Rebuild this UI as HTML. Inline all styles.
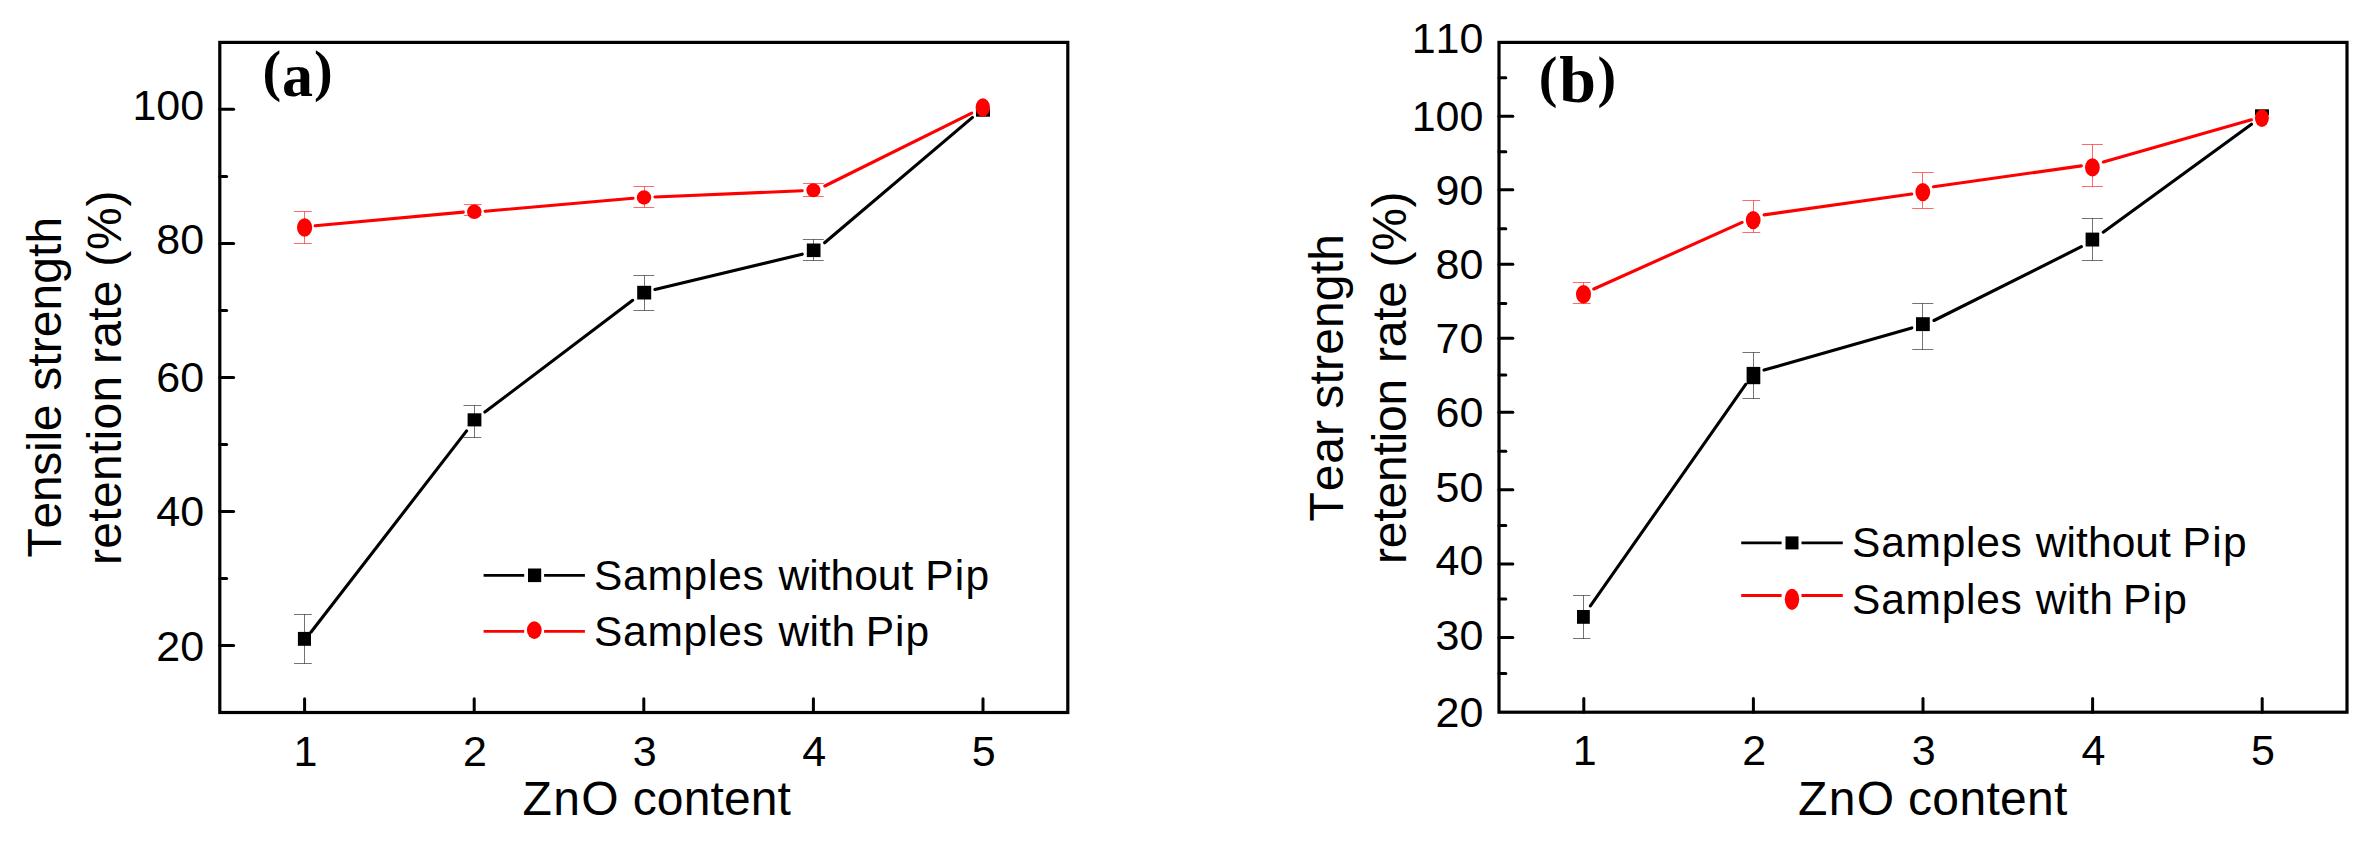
<!DOCTYPE html>
<html><head><meta charset="utf-8"><title>ZnO content charts</title>
<style>html,body{margin:0;padding:0;background:#fff}body{width:2374px;height:842px;overflow:hidden}svg{display:block}text{fill:#000;white-space:pre;font-kerning:none}</style>
</head><body>
<svg width="2374" height="842" viewBox="0 0 2374 842">
<rect width="2374" height="842" fill="#fff"/>
<rect x="219.8" y="42.4" width="848.0" height="670.1" fill="none" stroke="#000" stroke-width="3.2" stroke-linejoin="miter"/>
<line x1="304.6" y1="712.5" x2="304.6" y2="698.7" stroke="#000" stroke-width="3.0" stroke-linecap="round"/>
<text x="305.4" y="766.0" text-anchor="middle" style="font-family:'Liberation Sans',Arial,sans-serif;font-size:43px">1</text>
<line x1="474.2" y1="712.5" x2="474.2" y2="698.7" stroke="#000" stroke-width="3.0" stroke-linecap="round"/>
<text x="475.0" y="766.0" text-anchor="middle" style="font-family:'Liberation Sans',Arial,sans-serif;font-size:43px">2</text>
<line x1="643.8" y1="712.5" x2="643.8" y2="698.7" stroke="#000" stroke-width="3.0" stroke-linecap="round"/>
<text x="644.6" y="766.0" text-anchor="middle" style="font-family:'Liberation Sans',Arial,sans-serif;font-size:43px">3</text>
<line x1="813.4" y1="712.5" x2="813.4" y2="698.7" stroke="#000" stroke-width="3.0" stroke-linecap="round"/>
<text x="814.2" y="766.0" text-anchor="middle" style="font-family:'Liberation Sans',Arial,sans-serif;font-size:43px">4</text>
<line x1="983.0" y1="712.5" x2="983.0" y2="698.7" stroke="#000" stroke-width="3.0" stroke-linecap="round"/>
<text x="983.8" y="766.0" text-anchor="middle" style="font-family:'Liberation Sans',Arial,sans-serif;font-size:43px">5</text>
<line x1="219.8" y1="109.3" x2="233.6" y2="109.3" stroke="#000" stroke-width="3.0" stroke-linecap="round"/>
<line x1="219.8" y1="243.5" x2="233.6" y2="243.5" stroke="#000" stroke-width="3.0" stroke-linecap="round"/>
<line x1="219.8" y1="377.5" x2="233.6" y2="377.5" stroke="#000" stroke-width="3.0" stroke-linecap="round"/>
<line x1="219.8" y1="511.5" x2="233.6" y2="511.5" stroke="#000" stroke-width="3.0" stroke-linecap="round"/>
<line x1="219.8" y1="645.5" x2="233.6" y2="645.5" stroke="#000" stroke-width="3.0" stroke-linecap="round"/>
<line x1="219.8" y1="176.4" x2="226.6" y2="176.4" stroke="#000" stroke-width="3.0" stroke-linecap="round"/>
<line x1="219.8" y1="310.5" x2="226.6" y2="310.5" stroke="#000" stroke-width="3.0" stroke-linecap="round"/>
<line x1="219.8" y1="444.5" x2="226.6" y2="444.5" stroke="#000" stroke-width="3.0" stroke-linecap="round"/>
<line x1="219.8" y1="578.6" x2="226.6" y2="578.6" stroke="#000" stroke-width="3.0" stroke-linecap="round"/>
<text x="204.2" y="119.8" text-anchor="end" style="font-family:'Liberation Sans',Arial,sans-serif;font-size:43px">100</text>
<text x="204.2" y="254.2" text-anchor="end" style="font-family:'Liberation Sans',Arial,sans-serif;font-size:43px">80</text>
<text x="204.2" y="391.5" text-anchor="end" style="font-family:'Liberation Sans',Arial,sans-serif;font-size:43px">60</text>
<text x="204.2" y="526.3" text-anchor="end" style="font-family:'Liberation Sans',Arial,sans-serif;font-size:43px">40</text>
<text x="204.2" y="661.1" text-anchor="end" style="font-family:'Liberation Sans',Arial,sans-serif;font-size:43px">20</text>
<line x1="311.1" y1="632.0" x2="466.6" y2="430.9" stroke="#000" stroke-width="3.1" stroke-linecap="round"/>
<line x1="484.9" y1="412.1" x2="632.7" y2="300.3" stroke="#000" stroke-width="3.1" stroke-linecap="round"/>
<line x1="654.9" y1="289.4" x2="802.2" y2="254.2" stroke="#000" stroke-width="3.1" stroke-linecap="round"/>
<line x1="824.6" y1="242.8" x2="972.5" y2="117.4" stroke="#000" stroke-width="3.1" stroke-linecap="round"/>
<path d="M304.5 614.5V663.5M294.0 614.5H311.8M294.0 663.5H311.8" fill="none" stroke="#000" stroke-width="1" stroke-opacity="0.55"/>
<path d="M474.5 405.5V437.5M463.5 405.5H481.4M463.5 437.5H481.4" fill="none" stroke="#000" stroke-width="1" stroke-opacity="0.55"/>
<path d="M644.5 275.5V310.5M633.4 275.5H654.3M633.4 310.5H654.3" fill="none" stroke="#000" stroke-width="1" stroke-opacity="0.55"/>
<path d="M813.5 239.5V260.5M802.9 239.5H823.8M802.9 260.5H823.8" fill="none" stroke="#000" stroke-width="1" stroke-opacity="0.55"/>
<rect x="297.9" y="631.9" width="13.1" height="13.9" fill="#000"/>
<rect x="467.6" y="413.3" width="13.8" height="13.1" fill="#000"/>
<rect x="637.2" y="285.8" width="14.0" height="13.7" fill="#000"/>
<rect x="806.8" y="243.5" width="13.7" height="13.6" fill="#000"/>
<rect x="976.0" y="109.1" width="14.0" height="7.6" fill="#000"/>
<line x1="315.1" y1="225.8" x2="463.3" y2="212.1" stroke="#f00" stroke-width="3.1" stroke-linecap="round"/>
<line x1="485.1" y1="211.2" x2="633.0" y2="198.3" stroke="#f00" stroke-width="3.1" stroke-linecap="round"/>
<line x1="654.9" y1="197.0" x2="802.2" y2="190.8" stroke="#f00" stroke-width="3.1" stroke-linecap="round"/>
<line x1="824.8" y1="186.0" x2="971.7" y2="113.2" stroke="#f00" stroke-width="3.1" stroke-linecap="round"/>
<path d="M304.5 211.5V243.5M294.0 211.5H311.8M294.0 243.5H311.8" fill="none" stroke="#f00" stroke-width="1" stroke-opacity="0.58"/>
<path d="M474.5 204.5V215.5M463.8 204.5H481.6M463.8 215.5H481.6" fill="none" stroke="#f00" stroke-width="1" stroke-opacity="0.58"/>
<path d="M644.5 186.5V207.5M633.4 186.5H654.3M633.4 207.5H654.3" fill="none" stroke="#f00" stroke-width="1" stroke-opacity="0.58"/>
<path d="M813.5 183.5V196.5M802.9 183.5H823.8M802.9 196.5H823.8" fill="none" stroke="#f00" stroke-width="1" stroke-opacity="0.58"/>
<ellipse cx="304.6" cy="227.5" rx="7.6" ry="9.3" fill="#f00"/>
<ellipse cx="474.3" cy="211.8" rx="7.3" ry="7.2" fill="#f00"/>
<ellipse cx="644.0" cy="197.5" rx="7.2" ry="7.2" fill="#f00"/>
<ellipse cx="813.4" cy="190.3" rx="7.0" ry="7.0" fill="#f00"/>
<ellipse cx="982.8" cy="107.5" rx="7.2" ry="9.2" fill="#f00"/>
<line x1="483.6" y1="575.3" x2="524.2" y2="575.3" stroke="#000" stroke-width="2.8"/>
<line x1="544.1" y1="575.3" x2="584.9" y2="575.3" stroke="#000" stroke-width="2.8"/>
<rect x="528.0" y="568.5" width="13.2" height="13.6" fill="#000"/>
<line x1="483.6" y1="631.4" x2="524.2" y2="631.4" stroke="#f00" stroke-width="2.8"/>
<line x1="544.1" y1="631.4" x2="584.9" y2="631.4" stroke="#f00" stroke-width="2.8"/>
<ellipse cx="534.3" cy="630.1" rx="7.4" ry="8.8" fill="#f00"/>
<text y="590.0" style="font-family:'Liberation Sans',Arial,sans-serif;font-size:42.5px"><tspan x="593.97" style="letter-spacing:0.74px">Samples</tspan> <tspan x="778.56" style="letter-spacing:0.01px">without</tspan> <tspan x="925.21" style="letter-spacing:1.27px">Pip</tspan></text>
<text y="646.3" style="font-family:'Liberation Sans',Arial,sans-serif;font-size:42.5px"><tspan x="593.97" style="letter-spacing:0.74px">Samples</tspan> <tspan x="778.56" style="letter-spacing:0.31px">with</tspan> <tspan x="865.81" style="letter-spacing:0.97px">Pip</tspan></text>
<text style="font-family:'Liberation Serif',serif;font-weight:bold"><tspan x="262.4" y="90.4" style="font-size:56px">(</tspan><tspan x="282.1" y="96.4" style="font-size:62px">a</tspan><tspan x="314.0" y="90.4" style="font-size:56px">)</tspan></text>
<text y="815.1" style="font-family:'Liberation Sans',Arial,sans-serif;font-size:48px"><tspan x="522.58" style="letter-spacing:1.28px">ZnO</tspan> <tspan x="632.66" style="letter-spacing:0.14px">content</tspan></text>
<text transform="translate(60.6,0) rotate(-90)" y="0" style="font-family:'Liberation Sans',Arial,sans-serif;font-size:48px"><tspan x="-557.48" style="letter-spacing:-0.29px">Tensile</tspan> <tspan x="-390.84" style="letter-spacing:0.09px">strength</tspan></text>
<text transform="translate(120.8,0) rotate(-90)" y="0" style="font-family:'Liberation Sans',Arial,sans-serif;font-size:48px"><tspan x="-564.99" style="letter-spacing:0.30px">retention</tspan> <tspan x="-363.99" style="letter-spacing:0.24px">rate</tspan> <tspan x="-266.68" style="letter-spacing:0.75px">(%)</tspan></text>
<rect x="1499.0" y="42.4" width="848.0" height="669.8" fill="none" stroke="#000" stroke-width="3.2" stroke-linejoin="miter"/>
<line x1="1583.8" y1="712.2" x2="1583.8" y2="698.4" stroke="#000" stroke-width="3.0" stroke-linecap="round"/>
<text x="1584.6" y="765.4" text-anchor="middle" style="font-family:'Liberation Sans',Arial,sans-serif;font-size:43px">1</text>
<line x1="1753.4" y1="712.2" x2="1753.4" y2="698.4" stroke="#000" stroke-width="3.0" stroke-linecap="round"/>
<text x="1754.2" y="765.4" text-anchor="middle" style="font-family:'Liberation Sans',Arial,sans-serif;font-size:43px">2</text>
<line x1="1923.0" y1="712.2" x2="1923.0" y2="698.4" stroke="#000" stroke-width="3.0" stroke-linecap="round"/>
<text x="1923.8" y="765.4" text-anchor="middle" style="font-family:'Liberation Sans',Arial,sans-serif;font-size:43px">3</text>
<line x1="2092.6" y1="712.2" x2="2092.6" y2="698.4" stroke="#000" stroke-width="3.0" stroke-linecap="round"/>
<text x="2093.4" y="765.4" text-anchor="middle" style="font-family:'Liberation Sans',Arial,sans-serif;font-size:43px">4</text>
<line x1="2262.2" y1="712.2" x2="2262.2" y2="698.4" stroke="#000" stroke-width="3.0" stroke-linecap="round"/>
<text x="2263.0" y="765.4" text-anchor="middle" style="font-family:'Liberation Sans',Arial,sans-serif;font-size:43px">5</text>
<line x1="1499.0" y1="116.2" x2="1512.8" y2="116.2" stroke="#000" stroke-width="3.0" stroke-linecap="round"/>
<line x1="1499.0" y1="189.8" x2="1512.8" y2="189.8" stroke="#000" stroke-width="3.0" stroke-linecap="round"/>
<line x1="1499.0" y1="264.3" x2="1512.8" y2="264.3" stroke="#000" stroke-width="3.0" stroke-linecap="round"/>
<line x1="1499.0" y1="338.3" x2="1512.8" y2="338.3" stroke="#000" stroke-width="3.0" stroke-linecap="round"/>
<line x1="1499.0" y1="412.2" x2="1512.8" y2="412.2" stroke="#000" stroke-width="3.0" stroke-linecap="round"/>
<line x1="1499.0" y1="489.7" x2="1512.8" y2="489.7" stroke="#000" stroke-width="3.0" stroke-linecap="round"/>
<line x1="1499.0" y1="564.0" x2="1512.8" y2="564.0" stroke="#000" stroke-width="3.0" stroke-linecap="round"/>
<line x1="1499.0" y1="637.5" x2="1512.8" y2="637.5" stroke="#000" stroke-width="3.0" stroke-linecap="round"/>
<line x1="1499.0" y1="77.8" x2="1505.8" y2="77.8" stroke="#000" stroke-width="3.0" stroke-linecap="round"/>
<line x1="1499.0" y1="151.8" x2="1505.8" y2="151.8" stroke="#000" stroke-width="3.0" stroke-linecap="round"/>
<line x1="1499.0" y1="228.7" x2="1505.8" y2="228.7" stroke="#000" stroke-width="3.0" stroke-linecap="round"/>
<line x1="1499.0" y1="303.5" x2="1505.8" y2="303.5" stroke="#000" stroke-width="3.0" stroke-linecap="round"/>
<line x1="1499.0" y1="375.0" x2="1505.8" y2="375.0" stroke="#000" stroke-width="3.0" stroke-linecap="round"/>
<line x1="1499.0" y1="451.3" x2="1505.8" y2="451.3" stroke="#000" stroke-width="3.0" stroke-linecap="round"/>
<line x1="1499.0" y1="525.4" x2="1505.8" y2="525.4" stroke="#000" stroke-width="3.0" stroke-linecap="round"/>
<line x1="1499.0" y1="599.0" x2="1505.8" y2="599.0" stroke="#000" stroke-width="3.0" stroke-linecap="round"/>
<line x1="1499.0" y1="673.4" x2="1505.8" y2="673.4" stroke="#000" stroke-width="3.0" stroke-linecap="round"/>
<text x="1483.4" y="53.4" text-anchor="end" style="font-family:'Liberation Sans',Arial,sans-serif;font-size:43px">110</text>
<text x="1483.4" y="130.9" text-anchor="end" style="font-family:'Liberation Sans',Arial,sans-serif;font-size:43px">100</text>
<text x="1483.4" y="205.1" text-anchor="end" style="font-family:'Liberation Sans',Arial,sans-serif;font-size:43px">90</text>
<text x="1483.4" y="279.4" text-anchor="end" style="font-family:'Liberation Sans',Arial,sans-serif;font-size:43px">80</text>
<text x="1483.4" y="352.7" text-anchor="end" style="font-family:'Liberation Sans',Arial,sans-serif;font-size:43px">70</text>
<text x="1483.4" y="427.0" text-anchor="end" style="font-family:'Liberation Sans',Arial,sans-serif;font-size:43px">60</text>
<text x="1483.4" y="501.5" text-anchor="end" style="font-family:'Liberation Sans',Arial,sans-serif;font-size:43px">50</text>
<text x="1483.4" y="574.8" text-anchor="end" style="font-family:'Liberation Sans',Arial,sans-serif;font-size:43px">40</text>
<text x="1483.4" y="650.0" text-anchor="end" style="font-family:'Liberation Sans',Arial,sans-serif;font-size:43px">30</text>
<text x="1483.4" y="726.5" text-anchor="end" style="font-family:'Liberation Sans',Arial,sans-serif;font-size:43px">20</text>
<line x1="1590.4" y1="605.9" x2="1745.7" y2="384.3" stroke="#000" stroke-width="3.1" stroke-linecap="round"/>
<line x1="1764.0" y1="370.1" x2="1911.8" y2="327.9" stroke="#000" stroke-width="3.1" stroke-linecap="round"/>
<line x1="1934.0" y1="320.5" x2="2081.4" y2="246.7" stroke="#000" stroke-width="3.1" stroke-linecap="round"/>
<line x1="2103.2" y1="232.2" x2="2251.5" y2="124.2" stroke="#000" stroke-width="3.1" stroke-linecap="round"/>
<path d="M1583.5 595.5V638.5M1573.0 595.5H1590.4M1573.0 638.5H1590.4" fill="none" stroke="#000" stroke-width="1" stroke-opacity="0.55"/>
<path d="M1753.5 352.5V398.5M1742.5 352.5H1760.0M1742.5 398.5H1760.0" fill="none" stroke="#000" stroke-width="1" stroke-opacity="0.55"/>
<path d="M1922.5 303.5V349.5M1912.2 303.5H1933.3M1912.2 349.5H1933.3" fill="none" stroke="#000" stroke-width="1" stroke-opacity="0.55"/>
<path d="M2092.5 218.5V260.5M2081.8 218.5H2102.9M2081.8 260.5H2102.9" fill="none" stroke="#000" stroke-width="1" stroke-opacity="0.55"/>
<rect x="1577.0" y="610.0" width="12.8" height="13.8" fill="#000"/>
<rect x="1746.6" y="366.9" width="13.7" height="17.3" fill="#000"/>
<rect x="1916.0" y="317.2" width="13.8" height="13.9" fill="#000"/>
<rect x="2085.6" y="232.6" width="13.6" height="13.9" fill="#000"/>
<rect x="2255.0" y="109.3" width="14.0" height="5.8" fill="#000"/>
<line x1="1593.8" y1="289.0" x2="1742.1" y2="222.4" stroke="#f00" stroke-width="3.1" stroke-linecap="round"/>
<line x1="1764.1" y1="214.9" x2="1911.7" y2="194.0" stroke="#f00" stroke-width="3.1" stroke-linecap="round"/>
<line x1="1933.5" y1="186.7" x2="2081.3" y2="165.9" stroke="#f00" stroke-width="3.1" stroke-linecap="round"/>
<line x1="2103.3" y1="162.0" x2="2251.4" y2="119.8" stroke="#f00" stroke-width="3.1" stroke-linecap="round"/>
<path d="M1583.5 282.5V303.5M1572.8 282.5H1590.7M1572.8 303.5H1590.7" fill="none" stroke="#f00" stroke-width="1" stroke-opacity="0.58"/>
<path d="M1753.5 200.5V232.5M1742.4 200.5H1760.2M1742.4 232.5H1760.2" fill="none" stroke="#f00" stroke-width="1" stroke-opacity="0.58"/>
<path d="M1922.5 172.5V208.5M1912.2 172.5H1933.6M1912.2 208.5H1933.6" fill="none" stroke="#f00" stroke-width="1" stroke-opacity="0.58"/>
<path d="M2092.5 144.5V186.5M2081.8 144.5H2102.9M2081.8 186.5H2102.9" fill="none" stroke="#f00" stroke-width="1" stroke-opacity="0.58"/>
<ellipse cx="1583.5" cy="294.2" rx="7.5" ry="9.2" fill="#f00"/>
<ellipse cx="1753.2" cy="220.1" rx="7.4" ry="9.1" fill="#f00"/>
<ellipse cx="1922.8" cy="192.1" rx="7.4" ry="9.1" fill="#f00"/>
<ellipse cx="2092.4" cy="167.4" rx="7.4" ry="9.1" fill="#f00"/>
<ellipse cx="2261.9" cy="118.1" rx="7.0" ry="8.8" fill="#f00"/>
<line x1="1741.2" y1="542.9" x2="1781.6" y2="542.9" stroke="#000" stroke-width="2.8"/>
<line x1="1801.5" y1="542.9" x2="1842.8" y2="542.9" stroke="#000" stroke-width="2.8"/>
<rect x="1785.5" y="536.4" width="13.0" height="13.0" fill="#000"/>
<line x1="1741.2" y1="595.5" x2="1781.6" y2="595.5" stroke="#f00" stroke-width="2.8"/>
<line x1="1801.5" y1="595.5" x2="1842.8" y2="595.5" stroke="#f00" stroke-width="2.8"/>
<ellipse cx="1792.0" cy="599.3" rx="7.2" ry="10.6" fill="#f00"/>
<text y="557.3" style="font-family:'Liberation Sans',Arial,sans-serif;font-size:42.5px"><tspan x="1852.07" style="letter-spacing:0.74px">Samples</tspan> <tspan x="2035.86" style="letter-spacing:0.06px">without</tspan> <tspan x="2182.61" style="letter-spacing:1.27px">Pip</tspan></text>
<text y="613.8" style="font-family:'Liberation Sans',Arial,sans-serif;font-size:42.5px"><tspan x="1852.07" style="letter-spacing:0.74px">Samples</tspan> <tspan x="2035.86" style="letter-spacing:0.47px">with</tspan> <tspan x="2123.01" style="letter-spacing:1.27px">Pip</tspan></text>
<text style="font-family:'Liberation Serif',serif;font-weight:bold"><tspan x="1538.8" y="96.1" style="font-size:56px">(</tspan><tspan x="1559.2" y="102.3" style="font-size:66px">b</tspan><tspan x="1597.4" y="96.1" style="font-size:56px">)</tspan></text>
<text y="814.6" style="font-family:'Liberation Sans',Arial,sans-serif;font-size:48px"><tspan x="1797.98" style="letter-spacing:1.43px">ZnO</tspan> <tspan x="1908.06" style="letter-spacing:0.32px">content</tspan></text>
<text transform="translate(1343.1,0) rotate(-90)" y="0" style="font-family:'Liberation Sans',Arial,sans-serif;font-size:48px"><tspan x="-521.38" style="letter-spacing:0.86px">Tear</tspan> <tspan x="-408.64" style="letter-spacing:0.15px">strength</tspan></text>
<text transform="translate(1406.2,0) rotate(-90)" y="0" style="font-family:'Liberation Sans',Arial,sans-serif;font-size:48px"><tspan x="-563.99" style="letter-spacing:-0.19px">retention</tspan> <tspan x="-363.09" style="letter-spacing:-0.23px">rate</tspan> <tspan x="-267.38" style="letter-spacing:0.65px">(%)</tspan></text>
</svg>
</body></html>
